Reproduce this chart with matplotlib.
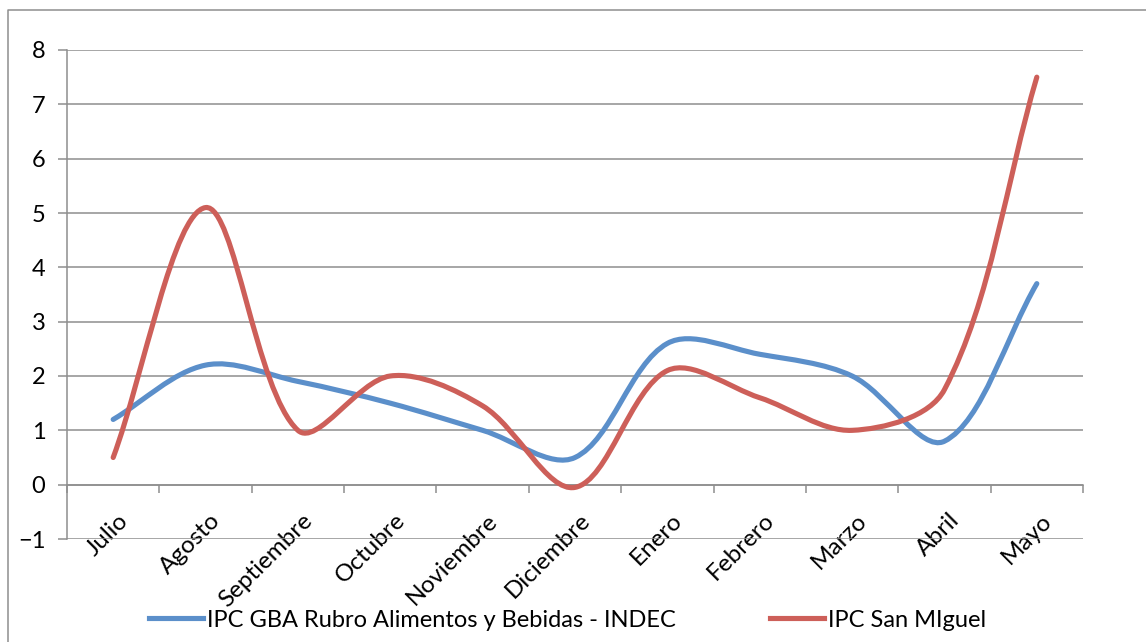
import numpy as np
import matplotlib
matplotlib.use("Agg")
import matplotlib.pyplot as plt
from matplotlib.path import Path
from matplotlib.patches import PathPatch
from matplotlib.lines import Line2D
from matplotlib.transforms import ScaledTranslation

plt.rcParams['font.family'] = ['Lato', 'DejaVu Sans']

meses = ["Julio", "Agosto", "Septiembre", "Octubre", "Noviembre", "Diciembre",
         "Enero", "Febrero", "Marzo", "Abril", "Mayo"]
ipc_indec = [1.2, 2.2, 1.9, 1.5, 1.0, 0.5, 2.6, 2.4, 2.0, 0.8, 3.7]
ipc_san_miguel = [0.5, 5.1, 1.0, 2.0, 1.45, -0.05, 2.1, 1.6, 1.0, 1.75, 7.5]
nombres = ["IPC GBA Rubro Alimentos y Bebidas - INDEC", "IPC San MIguel"]
colores = ["#5B8FCA", "#CD5F59"]


# curva suavizada tipo excel: bezier con puntos de control segun largo de tramos (en pixeles)
def curva_suave(ax, xs, ys):
    p = ax.transData.transform(np.column_stack([xs, ys]).astype(float))
    n = len(p)
    verts = [p[0]]
    codes = [Path.MOVETO]
    for i in range(n - 1):
        a = p[max(i - 1, 0)]
        b = p[i]
        c = p[i + 1]
        d = p[min(i + 2, n - 1)]
        dab = np.hypot(*(b - a))
        dbc = np.hypot(*(c - b))
        dcd = np.hypot(*(d - c))
        c1 = b + (c - a) * dbc / (dab + dbc) / 3
        c2 = c - (d - b) * dbc / (dbc + dcd) / 3
        verts += [c1, c2, c]
        codes += [Path.CURVE4] * 3
    verts = ax.transData.inverted().transform(np.array(verts))
    return Path(verts, codes)


fig = plt.figure(figsize=(11.46, 6.42), dpi=100)
ax = fig.add_axes([67 / 1146, 1 - 539 / 642, (1083 - 67) / 1146, (539 - 50) / 642])

x = np.arange(len(meses))
ax.set_xlim(-0.5, len(meses) - 0.5)
ax.set_ylim(-1, 8)

for serie, col in zip([ipc_indec, ipc_san_miguel], colores):
    ax.add_patch(PathPatch(curva_suave(ax, x, serie), fill=False, edgecolor=col,
                           linewidth=3.7, capstyle='round', joinstyle='round', zorder=3))

ax.set_yticks(range(-1, 9))
ax.grid(axis='y', color='#8E8E8E', linewidth=1.1)
ax.set_axisbelow(True)

for s in ['top', 'right']:
    ax.spines[s].set_visible(False)
ax.spines['left'].set_color('#8E8E8E')
ax.spines['left'].set_linewidth(1.1)
ax.spines['bottom'].set_position(('data', 0))
ax.spines['bottom'].set_color('#8E8E8E')
ax.spines['bottom'].set_linewidth(1.1)

ax.tick_params(axis='y', length=6.5, width=1.1, color='#8E8E8E', pad=9,
               labelsize=17, labelcolor='black')
ax.set_xticks(x)
ax.set_xticklabels(meses)
ax.set_xticks(np.arange(-0.5, len(meses)), minor=True)
ax.tick_params(axis='x', which='major', length=0, pad=18, labelsize=17.5)
ax.tick_params(axis='x', which='minor', length=6, width=1.1, color='#8E8E8E')
desplaza = ScaledTranslation(4 / 100, 0, fig.dpi_scale_trans)
for lbl in ax.get_xticklabels():
    lbl.set_rotation(45)
    lbl.set_rotation_mode('anchor')
    lbl.set_ha('right')
    lbl.set_va('top')
    lbl.set_transform(lbl.get_transform() + desplaza)

# marco exterior del grafico
fig.add_artist(Line2D([8 / 1146, 8 / 1146, 1], [0, 1 - 10 / 642, 1 - 10 / 642],
                      color='#8E8E8E', linewidth=1.1))

handles = [Line2D([], [], color=c, linewidth=3.7) for c in colores]
fig.legend(handles, nombres, loc='center', bbox_to_anchor=(0.495, 0.034), ncol=2,
           frameon=False, fontsize=17, handlelength=2.3, handletextpad=0.15,
           columnspacing=4.0)

fig.savefig("out.png", dpi=100)
